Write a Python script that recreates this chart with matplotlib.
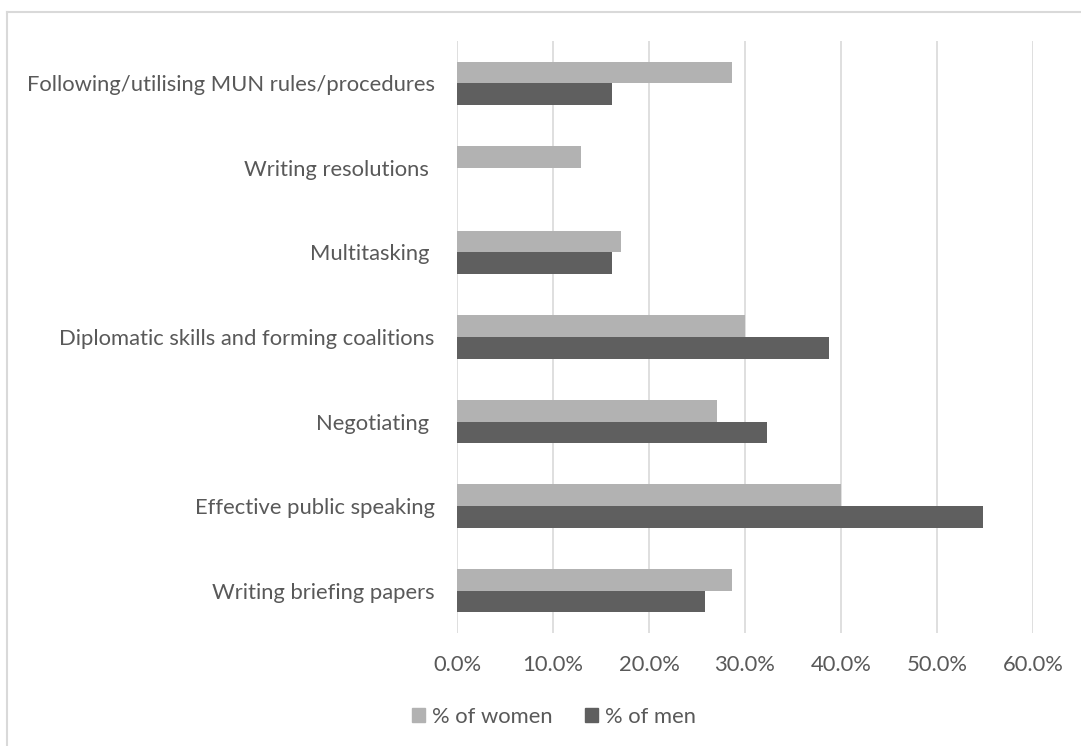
import numpy as np
import matplotlib
matplotlib.use('Agg')
import matplotlib.pyplot as plt
from matplotlib.patches import Patch
from matplotlib.ticker import PercentFormatter

categories = [
    "Following/utilising MUN rules/procedures",
    "Writing resolutions ",
    "Multitasking ",
    "Diplomatic skills and forming coalitions",
    "Negotiating ",
    "Effective public speaking",
    "Writing briefing papers",
]
women = [28.6, 12.9, 17.1, 30.0, 27.1, 40.0, 28.6]
men = [16.1, 0.0, 16.1, 38.7, 32.3, 54.8, 25.8]
x_ticks = [0, 10, 20, 30, 40, 50, 60]

WOMEN_COLOR = '#b2b2b2'
MEN_COLOR = '#5f5f5f'
TEXT_COLOR = '#595959'
GRID_COLOR = '#d9d9d9'
FS = 15.8

plt.rcParams['font.family'] = ['Lato', 'DejaVu Sans']

fig = plt.figure(figsize=(10.81, 7.46), dpi=100)
ax = fig.add_axes([457 / 1081, 1 - 633 / 746, (1033 - 457) / 1081, (633 - 41) / 746])

y = np.arange(len(categories))
h = 0.257
ax.barh(y - h / 2, women, height=h, color=WOMEN_COLOR, linewidth=0, zorder=3)
ax.barh(y + h / 2, men, height=h, color=MEN_COLOR, linewidth=0, zorder=3)

ax.set_ylim(len(categories) - 0.5, -0.5)
ax.set_xlim(0, 60)
ax.set_xticks(x_ticks)
ax.xaxis.set_major_formatter(PercentFormatter(decimals=1))
ax.set_yticks(y)
ax.set_yticklabels(categories)

ax.grid(axis='x', color=GRID_COLOR, linewidth=1.2, zorder=0)
for s in ax.spines.values():
    s.set_visible(False)
ax.tick_params(axis='both', length=0, labelsize=FS, colors=TEXT_COLOR)
ax.tick_params(axis='y', pad=16)
ax.tick_params(axis='x', pad=16)

# chart frame (top and left edges)
fig.add_artist(plt.Line2D([7.5 / 1081, 7.5 / 1081], [0, 1 - 11.5 / 746], transform=fig.transFigure,
                          color=GRID_COLOR, linewidth=1.5))
fig.add_artist(plt.Line2D([7.5 / 1081, 1], [1 - 11.5 / 746, 1 - 11.5 / 746], transform=fig.transFigure,
                          color=GRID_COLOR, linewidth=1.5))

handles = [Patch(color=WOMEN_COLOR, label='% of women'), Patch(color=MEN_COLOR, label='% of men')]
leg = fig.legend(handles=handles, loc='center', bbox_to_anchor=(554 / 1081, 1 - 717 / 746), ncol=2,
                 frameon=False, fontsize=FS, handlelength=0.6, handleheight=0.6,
                 handletextpad=0.3, columnspacing=1.5, labelcolor=TEXT_COLOR)

fig.savefig('out.png', dpi=100, facecolor='white')
